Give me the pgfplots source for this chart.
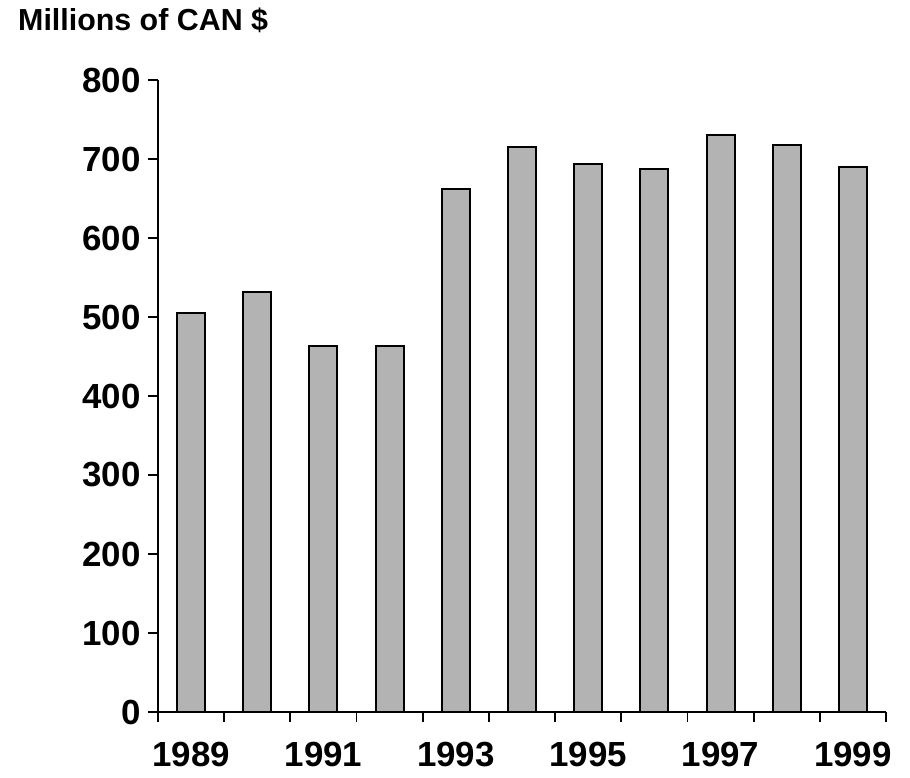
\documentclass[border=0pt]{standalone}
\usepackage{fontspec}
\setmainfont{Liberation Sans}
\usepackage{pgfplots}
\pgfplotsset{compat=1.18}
\definecolor{barfill}{RGB}{179,179,179}

\begin{document}
\begin{tikzpicture}
\useasboundingbox (-158bp,-66bp) rectangle (752bp,712bp);
\begin{axis}[at={(0,0)}, anchor=south west,
	scale only axis, width=728bp, height=632bp,
	xmin=-0.5, xmax=10.5, ymin=0, ymax=800,
	axis x line=bottom, axis y line=left,
	axis line style={black, line width=1.8bp, -},
	ytick={0,100,...,800},
	xtick={-0.5,0.5,...,10.5}, xticklabels={},
	extra x ticks={0,2,4,6,8,10},
	extra x tick labels={1989,1991,1993,1995,1997,1999},
	extra x tick style={major tick length=0pt,
		xticklabel style={yshift=-27bp}},
	tick align=outside, major tick length=10bp,
	tick style={black, line width=1.8bp},
	/pgf/number format/assume math mode=true,
	tick label style={font=\bfseries\fontsize{35}{40}\selectfont},
	yticklabel style={xshift=-4bp},
	clip=false]
	\addplot[ybar, bar width=28bp, fill=barfill, draw=black, line width=2bp]
		coordinates {
		(0,505) (1,532) (2,463) (3,463) (4,662) (5,715)
		(6,694) (7,687) (8,730) (9,718) (10,690)};
\end{axis}
\node[anchor=base west, inner sep=0, font=\bfseries\fontsize{30.5}{36}\selectfont]
	at (-140bp,681bp) {Millions of CAN \$};
\end{tikzpicture}
\end{document}
